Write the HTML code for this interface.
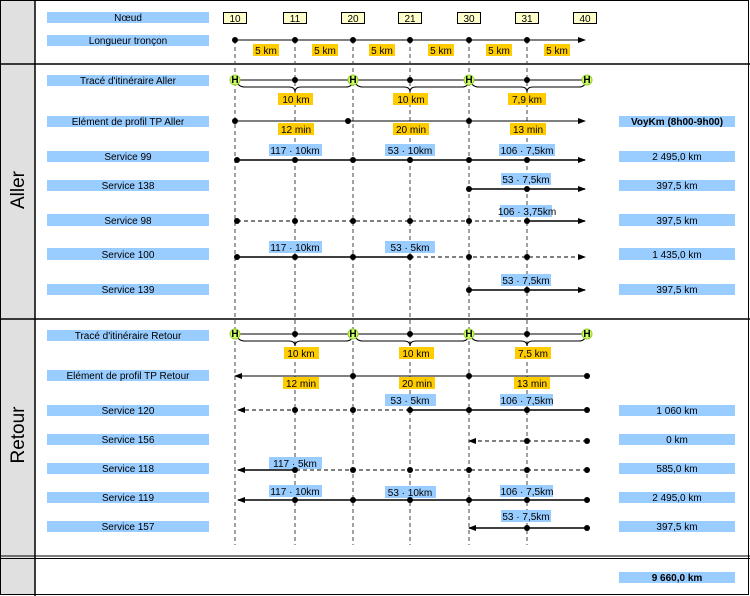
<!DOCTYPE html>
<html><head><meta charset="utf-8"><style>
html,body{margin:0;padding:0;background:#fff}
svg{display:block}
text{font-family:"Liberation Sans",Arial,sans-serif;font-size:10px;fill:#000}
</style></head><body>
<svg width="750" height="596" viewBox="0 0 750 596" xmlns="http://www.w3.org/2000/svg">
<defs>
<marker id="ar" markerWidth="8" markerHeight="6" refX="7" refY="3" orient="auto" markerUnits="userSpaceOnUse"><path d="M0,0 L8,3 L0,6 z" fill="#000"/></marker>
<marker id="al" markerWidth="8" markerHeight="6" refX="1" refY="3" orient="auto" markerUnits="userSpaceOnUse"><path d="M8,0 L0,3 L8,6 z" fill="#000"/></marker>
</defs>
<!-- frame -->
<rect x="0.5" y="0.5" width="748" height="594" fill="#fff" stroke="#000"/>
<rect x="1" y="1" width="34" height="593" fill="#e0e0e0"/>
<line x1="35" y1="0" x2="35" y2="596" stroke="#000" stroke-width="1.5"/>
<line x1="0" y1="64" x2="750" y2="64" stroke="#000" stroke-width="1.5"/>
<line x1="0" y1="319" x2="750" y2="319" stroke="#000" stroke-width="1.5"/>
<line x1="0" y1="556" x2="750" y2="556" stroke="#000" stroke-width="1"/>
<line x1="0" y1="558.5" x2="750" y2="558.5" stroke="#000" stroke-width="1"/>
<text transform="translate(24,190) rotate(-90)" text-anchor="middle" style="font-size:19px">Aller</text>
<text transform="translate(24,435) rotate(-90)" text-anchor="middle" style="font-size:19px">Retour</text>

<!-- left labels -->
<g fill="#99ccff">
<rect x="47" y="12" width="162" height="11"/><rect x="47" y="35" width="162" height="11"/>
<rect x="47" y="75" width="162" height="11"/><rect x="47" y="116" width="162" height="11"/>
<rect x="47" y="151" width="162" height="11"/><rect x="47" y="180" width="162" height="11"/>
<rect x="47" y="214" width="162" height="12"/><rect x="47" y="248" width="162" height="12"/>
<rect x="47" y="284" width="162" height="11"/>
<rect x="47" y="330" width="162" height="11"/><rect x="47" y="370" width="162" height="11"/>
<rect x="47" y="405" width="162" height="11"/><rect x="47" y="434" width="162" height="11"/>
<rect x="47" y="463" width="162" height="11"/><rect x="47" y="492" width="162" height="11"/>
<rect x="47" y="521" width="162" height="11"/>
</g>
<g text-anchor="middle">
<text x="128" y="21">Nœud</text><text x="128" y="44">Longueur tronçon</text>
<text x="128" y="84">Tracé d'itinéraire Aller</text><text x="128" y="125">Elément de profil TP Aller</text>
<text x="128" y="160">Service 99</text><text x="128" y="189">Service 138</text>
<text x="128" y="224">Service 98</text><text x="128" y="258">Service 100</text>
<text x="128" y="293">Service 139</text>
<text x="128" y="339">Tracé d'itinéraire Retour</text><text x="128" y="379">Elément de profil TP Retour</text>
<text x="128" y="414">Service 120</text><text x="128" y="443">Service 156</text>
<text x="128" y="472">Service 118</text><text x="128" y="501">Service 119</text>
<text x="128" y="530">Service 157</text>
</g>

<!-- right values -->
<g fill="#99ccff">
<rect x="619" y="116" width="116" height="11"/><rect x="619" y="151" width="116" height="11"/>
<rect x="619" y="180" width="116" height="11"/><rect x="619" y="214" width="116" height="12"/>
<rect x="619" y="248" width="116" height="12"/><rect x="619" y="284" width="116" height="11"/>
<rect x="619" y="405" width="116" height="11"/><rect x="619" y="434" width="116" height="11"/>
<rect x="619" y="463" width="116" height="11"/><rect x="619" y="492" width="116" height="11"/>
<rect x="619" y="521" width="116" height="11"/><rect x="619" y="572" width="116" height="11"/>
</g>
<g text-anchor="middle">
<text x="677" y="125" font-weight="bold">VoyKm (8h00-9h00)</text>
<text x="677" y="160">2 495,0 km</text><text x="677" y="189">397,5 km</text>
<text x="677" y="224">397,5 km</text><text x="677" y="258">1 435,0 km</text>
<text x="677" y="293">397,5 km</text>
<text x="677" y="414">1 060 km</text><text x="677" y="443">0 km</text>
<text x="677" y="472">585,0 km</text><text x="677" y="501">2 495,0 km</text>
<text x="677" y="530">397,5 km</text>
<text x="677" y="581" font-weight="bold">9 660,0 km</text>
</g>

<!-- node boxes -->
<g fill="#ffffcc" stroke="#000" stroke-width="1">
<rect x="223.5" y="12.5" width="23" height="11"/><rect x="283.5" y="12.5" width="23" height="11"/>
<rect x="341.5" y="12.5" width="23" height="11"/><rect x="398.5" y="12.5" width="23" height="11"/>
<rect x="457.5" y="12.5" width="23" height="11"/><rect x="515.5" y="12.5" width="23" height="11"/>
<rect x="573.5" y="12.5" width="23" height="11"/>
</g>
<g text-anchor="middle">
<text x="235" y="22">10</text><text x="295" y="22">11</text><text x="353" y="22">20</text>
<text x="410" y="22">21</text><text x="469" y="22">30</text><text x="527" y="22">31</text><text x="585" y="22">40</text>
</g>

<!-- dashed verticals -->
<g stroke="#444" stroke-width="1" stroke-dasharray="4,3">
<line x1="235" y1="40" x2="235" y2="545"/><line x1="295" y1="40" x2="295" y2="545"/>
<line x1="353" y1="40" x2="353" y2="545"/><line x1="410" y1="40" x2="410" y2="545"/>
<line x1="469" y1="40" x2="469" y2="545"/><line x1="527" y1="40" x2="527" y2="545"/>
</g>

<!-- yellow labels -->
<g fill="#ffcc00">
<rect x="253" y="44" width="26" height="12"/><rect x="312" y="44" width="26" height="12"/>
<rect x="369" y="44" width="26" height="12"/><rect x="428" y="44" width="26" height="12"/>
<rect x="486" y="44" width="26" height="12"/><rect x="544" y="44" width="26" height="12"/>
<rect x="278" y="93" width="35" height="12"/><rect x="393" y="93" width="35" height="12"/><rect x="508" y="93" width="38" height="12"/>
<rect x="278" y="123" width="36" height="12"/><rect x="393" y="123" width="36" height="12"/><rect x="510" y="123" width="36" height="12"/>
<rect x="284" y="347" width="35" height="12"/><rect x="399" y="347" width="35" height="12"/><rect x="515" y="347" width="36" height="12"/>
<rect x="283" y="377" width="36" height="12"/><rect x="399" y="377" width="36" height="12"/><rect x="514" y="377" width="36" height="12"/>
</g>
<g text-anchor="middle">
<text x="266" y="54">5 km</text><text x="325" y="54">5 km</text><text x="382" y="54">5 km</text>
<text x="441" y="54">5 km</text><text x="499" y="54">5 km</text><text x="557" y="54">5 km</text>
<text x="296" y="103">10 km</text><text x="411" y="103">10 km</text><text x="527" y="103">7,9 km</text>
<text x="296" y="133">12 min</text><text x="411" y="133">20 min</text><text x="528" y="133">13 min</text>
<text x="301" y="357">10 km</text><text x="416" y="357">10 km</text><text x="533" y="357">7,5 km</text>
<text x="301" y="387">12 min</text><text x="417" y="387">20 min</text><text x="532" y="387">13 min</text>
</g>

<!-- blue service labels -->
<g fill="#99ccff">
<rect x="269" y="144" width="53" height="12"/><rect x="385" y="144" width="50" height="12"/><rect x="499" y="144" width="56" height="12"/>
<rect x="501" y="173" width="50" height="12"/>
<rect x="500" y="205" width="52" height="12"/>
<rect x="269" y="241" width="53" height="12"/><rect x="385" y="241" width="50" height="12"/>
<rect x="501" y="274" width="50" height="12"/>
<rect x="385" y="394" width="51" height="12"/><rect x="500" y="394" width="53" height="12"/>
<rect x="269" y="457" width="53" height="12"/>
<rect x="269" y="485" width="53" height="12"/><rect x="385" y="486" width="51" height="12"/><rect x="500" y="485" width="53" height="12"/>
<rect x="501" y="510" width="50" height="12"/>
</g>
<g text-anchor="middle">
<text x="295" y="154">117 · 10km</text><text x="410" y="154">53 · 10km</text><text x="527" y="154">106 · 7,5km</text>
<text x="526" y="183">53 · 7,5km</text>
<text x="527" y="215">106 · 3,75km</text>
<text x="295" y="251">117 · 10km</text><text x="410" y="251">53 · 5km</text>
<text x="526" y="284">53 · 7,5km</text>
<text x="410" y="404">53 · 5km</text><text x="527" y="404">106 · 7,5km</text>
<text x="295" y="467">117 · 5km</text>
<text x="295" y="495">117 · 10km</text><text x="410" y="496">53 · 10km</text><text x="527" y="495">106 · 7,5km</text>
<text x="526" y="520">53 · 7,5km</text>
</g>

<!-- lines -->
<g stroke="#000" fill="none">
<!-- longueur -->
<line x1="235" y1="40" x2="585" y2="40" marker-end="url(#ar)"/>
<!-- trace aller -->
<line x1="239" y1="80" x2="584" y2="80"/>
<path d="M237 81 Q238 87 245 87 L289 87 Q295 87 295 92 Q295 87 301 87 L346 87 Q352 87 353 81"/>
<path d="M355 81 Q356 87 363 87 L404 87 Q410 87 410 92 Q410 87 416 87 L462 87 Q468 87 469 81"/>
<path d="M471 81 Q472 87 479 87 L521 87 Q527 87 527 92 Q527 87 533 87 L579 87 Q585 87 586 81"/>
<!-- profil aller -->
<line x1="235" y1="121" x2="585" y2="121" marker-end="url(#ar)"/>
<!-- services aller -->
<line x1="237" y1="160" x2="585" y2="160" stroke-width="1.6" marker-end="url(#ar)"/>
<line x1="469" y1="189" x2="585" y2="189" stroke-width="1.6" marker-end="url(#ar)"/>
<line x1="237" y1="221" x2="527" y2="221" stroke-dasharray="4,3"/>
<line x1="527" y1="221" x2="585" y2="221" stroke-width="1.6" marker-end="url(#ar)"/>
<line x1="237" y1="257" x2="410" y2="257" stroke-width="1.6"/>
<line x1="410" y1="257" x2="585" y2="257" stroke-dasharray="4,3" marker-end="url(#ar)"/>
<line x1="469" y1="290" x2="585" y2="290" stroke-width="1.6" marker-end="url(#ar)"/>
<!-- trace retour -->
<line x1="239" y1="334" x2="584" y2="334"/>
<path d="M237 335 Q238 341 245 341 L289 341 Q295 341 295 346 Q295 341 301 341 L346 341 Q352 341 353 335"/>
<path d="M355 335 Q356 341 363 341 L404 341 Q410 341 410 346 Q410 341 416 341 L462 341 Q468 341 469 335"/>
<path d="M471 335 Q472 341 479 341 L521 341 Q527 341 527 346 Q527 341 533 341 L579 341 Q585 341 586 335"/>
<!-- profil retour -->
<line x1="587" y1="376" x2="235" y2="376" marker-end="url(#ar)"/>
<!-- services retour -->
<line x1="587" y1="410" x2="410" y2="410" stroke-width="1.6"/>
<line x1="410" y1="410" x2="238" y2="410" stroke-dasharray="4,3" marker-end="url(#ar)"/>
<line x1="587" y1="441" x2="469" y2="441" stroke-dasharray="4,3" marker-end="url(#ar)"/>
<line x1="587" y1="470" x2="295" y2="470" stroke-dasharray="4,3"/>
<line x1="295" y1="470" x2="238" y2="470" stroke-width="1.6" marker-end="url(#ar)"/>
<line x1="587" y1="500" x2="238" y2="500" stroke-width="1.6" marker-end="url(#ar)"/>
<line x1="587" y1="528" x2="469" y2="528" stroke-width="1.6" marker-end="url(#ar)"/>
</g>

<!-- dots -->
<g fill="#000">
<circle cx="235" cy="40" r="3"/><circle cx="295" cy="40" r="3"/><circle cx="353" cy="40" r="3"/><circle cx="410" cy="40" r="3"/><circle cx="469" cy="40" r="3"/><circle cx="527" cy="40" r="3"/>
<circle cx="295" cy="80" r="3"/><circle cx="410" cy="80" r="3"/><circle cx="527" cy="80" r="3"/>
<circle cx="235" cy="121" r="3"/><circle cx="348" cy="121" r="3"/><circle cx="469" cy="121" r="3"/>
<circle cx="237" cy="160" r="3"/><circle cx="295" cy="160" r="3"/><circle cx="353" cy="160" r="3"/><circle cx="410" cy="160" r="3"/><circle cx="469" cy="160" r="3"/><circle cx="527" cy="160" r="3"/>
<circle cx="469" cy="189" r="3"/><circle cx="527" cy="189" r="3"/>
<circle cx="237" cy="221" r="3"/><circle cx="295" cy="221" r="3"/><circle cx="353" cy="221" r="3"/><circle cx="410" cy="221" r="3"/><circle cx="469" cy="221" r="3"/><circle cx="527" cy="221" r="3"/>
<circle cx="237" cy="257" r="3"/><circle cx="295" cy="257" r="3"/><circle cx="353" cy="257" r="3"/><circle cx="410" cy="257" r="3"/><circle cx="469" cy="257" r="3"/><circle cx="527" cy="257" r="3"/>
<circle cx="469" cy="290" r="3"/><circle cx="527" cy="290" r="3"/>
<circle cx="295" cy="334" r="3"/><circle cx="410" cy="334" r="3"/><circle cx="527" cy="334" r="3"/>
<circle cx="353" cy="376" r="3"/><circle cx="469" cy="376" r="3"/><circle cx="587" cy="376" r="3"/>
<circle cx="295" cy="410" r="3"/><circle cx="353" cy="410" r="3"/><circle cx="410" cy="410" r="3"/><circle cx="469" cy="410" r="3"/><circle cx="527" cy="410" r="3"/><circle cx="587" cy="410" r="3"/>
<circle cx="527" cy="441" r="3"/><circle cx="587" cy="441" r="3"/>
<circle cx="295" cy="470" r="3"/><circle cx="353" cy="470" r="3"/><circle cx="410" cy="470" r="3"/><circle cx="469" cy="470" r="3"/><circle cx="527" cy="470" r="3"/><circle cx="587" cy="470" r="3"/>
<circle cx="295" cy="500" r="3"/><circle cx="353" cy="500" r="3"/><circle cx="410" cy="500" r="3"/><circle cx="469" cy="500" r="3"/><circle cx="527" cy="500" r="3"/><circle cx="587" cy="500" r="3"/>
<circle cx="527" cy="528" r="3"/><circle cx="587" cy="528" r="3"/>
</g>

<!-- H stop symbols -->
<g>
<circle cx="235" cy="80" r="5" fill="#ccff66" stroke="#99cc33"/><circle cx="353" cy="80" r="5" fill="#ccff66" stroke="#99cc33"/>
<circle cx="469" cy="80" r="5" fill="#ccff66" stroke="#99cc33"/><circle cx="587" cy="80" r="5" fill="#ccff66" stroke="#99cc33"/>
<circle cx="235" cy="334" r="5" fill="#ccff66" stroke="#99cc33"/><circle cx="353" cy="334" r="5" fill="#ccff66" stroke="#99cc33"/>
<circle cx="469" cy="334" r="5" fill="#ccff66" stroke="#99cc33"/><circle cx="587" cy="334" r="5" fill="#ccff66" stroke="#99cc33"/>
</g>
<g text-anchor="middle" style="font-size:8px;font-weight:bold">
<text x="235" y="83" fill="#339900">H</text><text x="353" y="83" fill="#339900">H</text><text x="469" y="83" fill="#339900">H</text><text x="587" y="83" fill="#339900">H</text>
<text x="235" y="337" fill="#339900">H</text><text x="353" y="337" fill="#339900">H</text><text x="469" y="337" fill="#339900">H</text><text x="587" y="337" fill="#339900">H</text>
</g>
</svg>
</body></html>
